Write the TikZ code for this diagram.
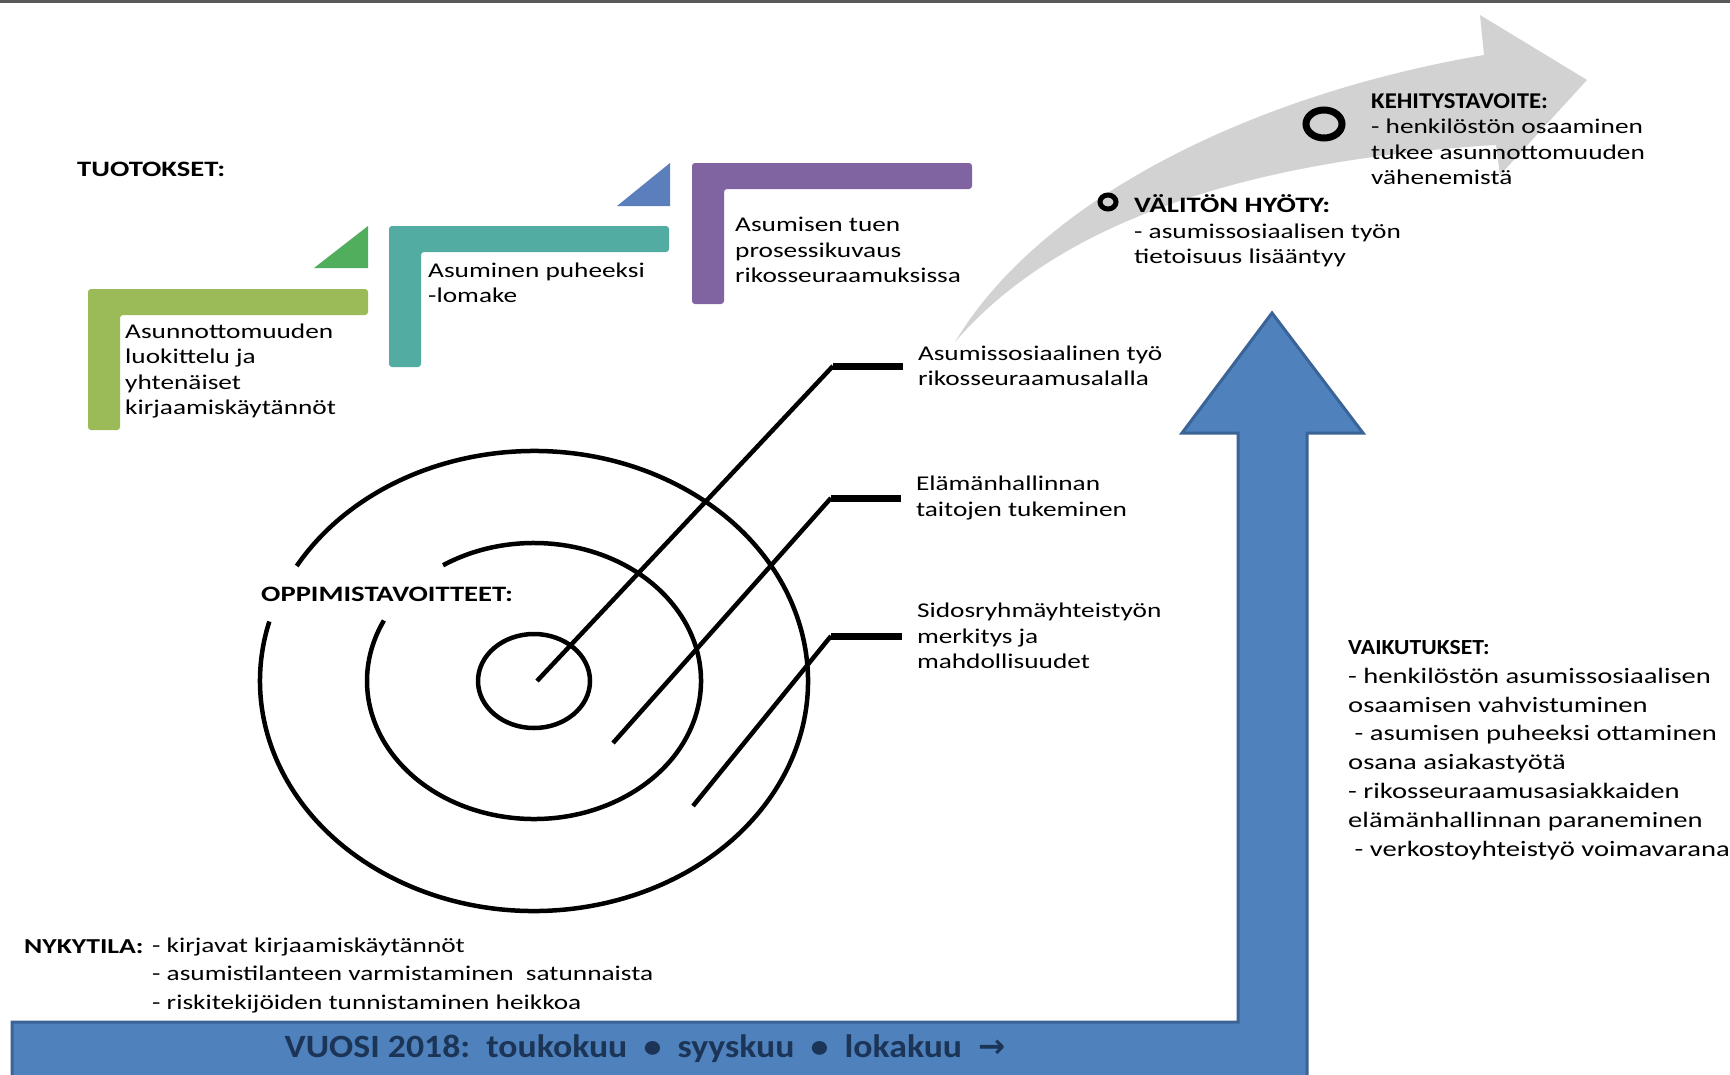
\documentclass[tikz,border=0pt]{standalone}
\usepackage{fontspec}
\setmainfont{Carlito}[FakeStretch=1.3]
\newfontfamily\headfont{Carlito}[FakeStretch=1.1]
\newfontfamily\arrowfont{DejaVu Sans}
\usetikzlibrary{positioning}
\definecolor{leafgreen}{HTML}{9BBB59}
\definecolor{tealstep}{HTML}{52ACA1}
\definecolor{violetstep}{HTML}{8064A2}
\definecolor{grasstri}{HTML}{50AE5C}
\definecolor{skytri}{HTML}{5B7EBD}
\definecolor{arcgray}{HTML}{D2D2D2}
\definecolor{barblue}{HTML}{4F81BD}
\definecolor{bardark}{HTML}{3A6396}
\definecolor{navytext}{HTML}{1C3557}

\begin{document}
\begin{tikzpicture}[x=1pt,y=-1pt,
    txt/.style={anchor=west,align=left,inner sep=0pt,font=\fontsize{21}{25.5}\selectfont},
    head/.style={anchor=west,inner sep=0pt,font=\bfseries\fontsize{22}{26}\selectfont},
    ring/.style={line width=4.5},
    lead/.style={line width=4.5},
    leadbar/.style={line width=7},
    tag/.style={txt,outer xsep=15pt}]
      \clip (0,0) rectangle (1730,1074);
      \fill[white] (0,0) rectangle (1730,1074);
      \draw[line width=3,black!65] (0,1) -- (1730,1);

      \foreach \x/\y/\c in {88/289/leafgreen,389/226/tealstep,692/163/violetstep}
        \fill[\c,rounded corners=3] (\x,\y) -- ++(280,0) -- ++(0,26) -- ++(-248,0) -- ++(0,115) -- ++(-32,0) -- cycle;
      \fill[grasstri] (314,268) -- (368,268) -- (368,226) -- cycle;
      \fill[skytri] (617,206) -- (670,206) -- (670,163) -- cycle;

      \node[head] (tuotokset) at (77,169) {TUOTOKSET:};
      \node[txt] (out1) at (125,371) {Asunnottomuuden\\luokittelu ja\\yhtenäiset\\kirjaamiskäytännöt};
      \node[txt] (out2) at (428,283) {Asuminen puheeksi\\-lomake};
      \node[txt] (out3) at (735,250) {Asumisen tuen\\prosessikuvaus\\rikosseuraamuksissa};

      \fill[arcgray] (955,342) .. controls (1040,200) and (1250,95) .. (1484,55) -- (1480,15) -- (1587,80)
        -- (1500,175) -- (1496,145) .. controls (1250,160) and (1060,220) .. (955,342) -- cycle;
      \draw[line width=5] (1108,202) ellipse [x radius=8, y radius=7];
      \draw[line width=7] (1324,124) ellipse [x radius=18, y radius=14];
      \node[txt] (gain) at (1134,231) {{\bfseries\fontsize{22}{25.5}\selectfont VÄLITÖN HYÖTY:}\\- asumissosiaalisen työn\\tietoisuus lisääntyy};
      \node[txt] (aim) at (1371,139) {{\headfont\bfseries\fontsize{22.5}{25.5}\selectfont KEHITYSTAVOITE:}\\- henkilöstön osaaminen\\tukee asunnottomuuden\\vähenemistä};

      \coordinate (c) at (534,681);
      \draw[ring] (c) ellipse [x radius=56, y radius=47];
      \draw[ring] ([shift={(237:167 and 138)}]c) arc [start angle=237, end angle=566, x radius=167, y radius=138];
      \draw[ring] ([shift={(210:274 and 230)}]c) arc [start angle=210, end angle=555, x radius=274, y radius=230];
      \node[head] (oppi) at (261,594) {OPPIMISTAVOITTEET:};

      \coordinate (s1) at (537,681);
      \coordinate (b1) at (833,366);
      \coordinate (s2) at (613,743);
      \coordinate (b2) at (831,498);
      \coordinate (s3) at (693,806);
      \coordinate (b3) at (831,636);
      \node[tag] (goal1) at (903,366) {Asumissosiaalinen työ\\rikosseuraamusalalla};
      \node[tag] (goal2) at (901,498) {Elämänhallinnan\\taitojen tukeminen};
      \node[tag] (goal3) at (902,636) {Sidosryhmäyhteistyön\\merkitys ja\\mahdollisuudet};
      \draw[lead] (s1) -- (b1);
      \draw[lead] (s2) -- (b2);
      \draw[lead] (s3) -- (b3);
      \draw[leadbar] (b1) -- (goal1.west);
      \draw[leadbar] (b2) -- (goal2.west);
      \draw[leadbar] (b3) -- (goal3.west);

      \filldraw[fill=barblue,draw=bardark,line width=3] (12,1022) -- (1238,1022) -- (1238,433) -- (1182,433)
        -- (1272,313) -- (1363,433) -- (1307,433) -- (1307,1090) -- (12,1090) -- cycle;
      \node[font=\headfont\bfseries\fontsize{32.5}{38}\selectfont,text=navytext] (year) at (645,1049)
        {VUOSI 2018:\ \ toukokuu \ •\ \ syyskuu \ •\ \ lokakuu \ {\arrowfont →}};

      \node[txt,font=\fontsize{22}{28.8}\selectfont] (effects) at (1348,750) {{\headfont\bfseries\fontsize{21.5}{28.8}\selectfont VAIKUTUKSET:}\\- henkilöstön asumissosiaalisen\\osaamisen vahvistuminen\\\ - asumisen puheeksi ottaminen\\osana asiakastyötä\\- rikosseuraamusasiakkaiden\\elämänhallinnan paraneminen\\\ - verkostoyhteistyö voimavarana};

      \node[head,font=\bfseries\fontsize{21.3}{26}\selectfont] (now) at (24,947) {NYKYTILA:};
      \node[txt,font=\fontsize{21}{28.5}\selectfont] (nowlist) at (152,975) {- kirjavat kirjaamiskäytännöt\\- asumistilanteen varmistaminen\ \ satunnaista\\- riskitekijöiden tunnistaminen heikkoa};
    \end{tikzpicture}
\end{document}
